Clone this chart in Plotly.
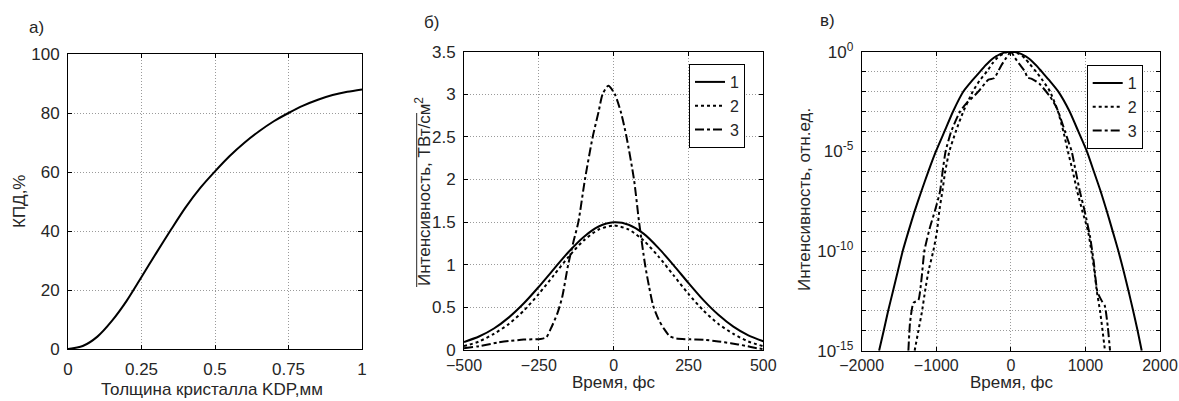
import plotly.graph_objects as go

W, H = 1179, 401

# ---------------- data ----------------
# panel a: efficiency vs KDP crystal thickness
thickness_mm = [0, 0.05, 0.1, 0.15, 0.2, 0.25, 0.3, 0.35, 0.4, 0.45, 0.5,
                0.55, 0.6, 0.65, 0.7, 0.75, 0.8, 0.85, 0.9, 0.95, 1.0]
efficiency_pct = [0, 1.0, 4.2, 9.6, 16.4, 24.4, 32.5, 40.4, 48.0, 54.6, 60.2,
                  65.4, 69.9, 73.8, 77.2, 80.0, 82.5, 84.5, 86.1, 87.2, 88.0]

# panel b: intensity, TW/cm^2
t1b = [-500, -450, -400, -350, -300, -250, -200, -150, -100, -50, 0,
       50, 100, 150, 200, 250, 300, 350, 400, 450, 500]
I1b = [0.093, 0.158, 0.252, 0.383, 0.548, 0.742, 0.950, 1.153, 1.327, 1.449, 1.498,
       1.470, 1.365, 1.196, 0.996, 0.786, 0.585, 0.413, 0.274, 0.172, 0.103]
t2b = [-500, -450, -400, -350, -300, -250, -200, -150, -100, -50, 0,
       50, 100, 150, 200, 250, 300, 350, 400, 450, 500]
I2b = [0.045, 0.100, 0.190, 0.306, 0.463, 0.658, 0.877, 1.096, 1.285, 1.414, 1.460,
       1.414, 1.285, 1.096, 0.877, 0.658, 0.463, 0.306, 0.190, 0.100, 0.045]
t3b = [-500, -450, -389, -350, -300, -244, -225, -210, -188, -172, -152, -135, -118,
       -96, -70, -50, -37, -18, 4, 25, 43, 68, 85, 105, 118, 132, 150, 168, 188,
       210, 257, 302, 350, 391, 440, 480, 500]
I3b = [0.02, 0.045, 0.086, 0.105, 0.122, 0.13, 0.15, 0.25, 0.43, 0.62, 1.0, 1.26, 1.5,
       2.0, 2.5, 2.8, 3.0, 3.1, 3.0, 2.78, 2.5, 2.0, 1.5, 1.0, 0.75, 0.52, 0.36, 0.25, 0.16,
       0.135, 0.125, 0.12, 0.10, 0.08, 0.05, 0.02, 0.012]

# panel c: normalised intensity (log scale)
t1c = [-1767, -1705, -1645, -1580, -1515, -1450, -1372, -1290, -1200, -1106, -1005,
       -890, -775, -637, -520, -413, -350, -300, -250, -200, -150, -100, -50, 0,
       50, 100, 150, 200, 250, 300, 350, 414, 520, 637, 788,
       905, 1020, 1112, 1204, 1287, 1365, 1442, 1512, 1578, 1640, 1700, 1755]
I1c = [1e-15, 1e-14, 1e-13, 1e-12, 1e-11, 1e-10, 1e-9, 1e-8, 1e-7, 1e-6, 1e-5,
       1e-4, 1e-3, 1e-2, 0.035, 1e-1, 0.19, 0.29, 0.43, 0.58, 0.74, 0.87, 0.97, 1.0,
       0.97, 0.87, 0.74, 0.58, 0.43, 0.29, 0.19, 1e-1, 0.035, 1e-2, 1e-3,
       1e-4, 1e-5, 1e-6, 1e-7, 1e-8, 1e-9, 1e-10, 1e-11, 1e-12, 1e-13, 1e-14, 1e-15]
t2c = [-1290, -1240, -1190, -1150, -1104, -1040, -990, -960, -918, -880, -825,
       -738, -637, -511, -420, -323, -250, -200, -150, -100, -50, 0, 50, 100, 150, 200,
       250, 338, 430, 526, 632, 704, 765,
       830, 890, 960, 1035, 1080, 1120, 1152, 1196, 1230, 1262]
I2c = [1e-15, 1e-14, 1e-13, 1e-12, 1e-11, 1e-10, 1e-9, 1e-8, 1e-7, 1e-6, 1e-5,
       1e-4, 1e-3, 1e-2, 0.035, 1e-1, 0.25, 0.417, 0.63, 0.80, 0.95, 1.0, 0.95, 0.80, 0.63, 0.417,
       0.25, 1e-1, 0.035, 1e-2, 1e-3, 1e-4, 1e-5,
       1e-6, 1e-7, 1e-8, 1e-9, 1e-10, 1e-11, 1e-12, 1e-13, 1e-14, 1e-15]
t3c = [-1374, -1352, -1307, -1240, -1195, -1160, -1088, -1016, -949, -915, -875,
       -800, -681, -591, -480, -413, -350, -300, -225, -200, -130, -60, 0, 56, 120,
       190, 225, 280, 380, 526, 615, 660, 749, 816, 870, 925, 990, 1062, 1110, 1160,
       1219, 1260, 1300, 1330]
I3c = [1e-15, 2.51e-14, 2.51e-13, 3.47e-13, 5.1e-12, 1e-10, 1.4e-9, 1.1e-8, 1e-7, 1e-6, 1e-5,
       1e-4, 1e-3, 2.69e-3, 6.76e-3, 1.26e-2, 2.51e-2, 3.98e-2, 4.68e-2, 6.31e-2, 0.1995, 0.501, 1.0, 0.479, 0.224,
       0.1, 0.0501, 0.0437, 0.0251, 5.62e-3, 1.51e-3, 5.5e-4, 5.5e-5, 1e-5, 1e-6, 1e-7, 1e-8, 5.25e-10, 3.16e-11, 9.1e-13,
       3.16e-13, 1.78e-13, 1.58e-14, 1e-15]

series_names = ["1", "2", "3"]

xa_ticks = [0, 0.25, 0.5, 0.75, 1]
xa_text = ["0", "0.25", "0.5", "0.75", "1"]
ya_ticks = [0, 20, 40, 60, 80, 100]
xb_ticks = [-500, -250, 0, 250, 500]
yb_ticks = [0, 0.5, 1, 1.5, 2, 2.5, 3, 3.5]
yb_text = ["0", "0.5", "1", "1.5", "2", "2.5", "3", "3.5"]
xc_ticks = [-2000, -1000, 0, 1000, 2000]
yc_exps = list(range(-15, 1))
yc_labeled = {0: "10<sup>0</sup>", -5: "10<sup>-5</sup>", -10: "10<sup>-10</sup>", -15: "10<sup>-15</sup>"}

# ---------------- styling ----------------
FONT = "Liberation Sans"
TXT = "#262626"
FS = 17


def px(x):
    return x / W


def py(y):
    return 1 - y / H


def axis(domain, **kw):
    d = dict(domain=domain, showline=True, linecolor="black", linewidth=1,
             mirror="ticks", ticks="inside", ticklen=4, tickcolor="black",
             showgrid=True, gridcolor="#9a9a9a", griddash="1px,2px", gridwidth=1,
             zeroline=False, tickfont=dict(family=FONT, size=FS, color=TXT),
             fixedrange=True, automargin=False)
    d.update(kw)
    return d


fig = go.Figure()

line_styles = [dict(color="black", width=2, dash="solid"),
               dict(color="black", width=2, dash="dot"),
               dict(color="black", width=2, dash="dashdot")]

# panel a
fig.add_trace(go.Scatter(x=thickness_mm, y=efficiency_pct, mode="lines",
                         line=dict(color="black", width=2, shape="spline", smoothing=0.8),
                         showlegend=False, xaxis="x", yaxis="y"))

# panel b
for (tt, ii), nm, st in zip([(t1b, I1b), (t2b, I2b), (t3b, I3b)], series_names, line_styles):
    fig.add_trace(go.Scatter(x=tt, y=ii, mode="lines", name=nm,
                             line=dict(**st, shape="spline", smoothing=0.7),
                             xaxis="x2", yaxis="y2", legend="legend"))

# panel c
for (tt, ii), nm, st in zip([(t1c, I1c), (t2c, I2c), (t3c, I3c)], series_names, line_styles):
    fig.add_trace(go.Scatter(x=tt, y=ii, mode="lines", name=nm,
                             line=dict(**st, shape="spline", smoothing=0.5),
                             xaxis="x3", yaxis="y3", legend="legend2"))

LEG_FONT = dict(family=FONT, size=16, color=TXT)
XT_FONT = dict(family=FONT, size=16, color=TXT)

layout = dict(
    width=W, height=H, autosize=False,
    margin=dict(l=0, r=0, t=0, b=0, pad=0, autoexpand=False),
    paper_bgcolor="white", plot_bgcolor="white",
    font=dict(family=FONT, size=FS, color=TXT),
    xaxis=axis([px(68), px(362)], anchor="y", range=[0, 1],
               tickvals=xa_ticks, ticktext=xa_text, ticklabelstandoff=5),
    yaxis=axis([py(349), py(54)], anchor="x", range=[0, 100],
               tickvals=ya_ticks, ticklabelstandoff=4),
    xaxis2=axis([px(464), px(763.3)], anchor="y2", range=[-500, 500],
                tickvals=xb_ticks, ticklabelstandoff=1, tickfont=XT_FONT),
    yaxis2=axis([py(350), py(51.7)], anchor="x2", range=[0, 3.5],
                tickvals=yb_ticks, ticktext=yb_text, ticklabelstandoff=4),
    xaxis3=axis([px(861.7), px(1160)], anchor="y3", range=[-2000, 2000],
                tickvals=xc_ticks, ticklabelstandoff=0, tickfont=XT_FONT),
    yaxis3=axis([py(350.7), py(51.7)], anchor="x3", type="log", range=[-15, 0],
                tickvals=[10.0 ** e for e in yc_exps],
                ticktext=[yc_labeled.get(e, "") for e in yc_exps], ticklabelstandoff=4),
    legend=dict(x=px(689), y=py(64), xanchor="left", yanchor="top",
                bgcolor="white", bordercolor="black", borderwidth=1,
                font=LEG_FONT, itemwidth=30, tracegroupgap=0),
    legend2=dict(x=px(1086.7), y=py(65), xanchor="left", yanchor="top",
                 bgcolor="white", bordercolor="black", borderwidth=1,
                 font=LEG_FONT, itemwidth=30, tracegroupgap=0),
)
fig.update_layout(**layout)

ann = [
    ("а)", 36, 27, 0),
    ("б)", 431, 23, 0),
    ("в)", 828, 21, 0),
    ("КПД,%", 19, 201, -90),
    ("Интенсивность, ТВт/см<sup>2</sup>", 423, 192, -90),
    ("Интенсивность, отн.ед.", 804, 200, -90),
    ("Толщина кристалла KDP,мм", 212, 389, 0),
    ("Время, фс", 614, 382, 0),
    ("Время, фс", 1012, 382, 0),
]
for text, x, y, ang in ann:
    fig.add_annotation(text=text, x=px(x), y=py(y), xref="paper", yref="paper",
                       showarrow=False, textangle=ang, xanchor="center", yanchor="middle",
                       font=dict(family=FONT, size=FS, color=TXT))

# line drawn along the top of the panel b axis title (as in the original)
fig.add_shape(type="line", xref="paper", yref="paper",
              x0=px(416.7), x1=px(416.7), y0=py(113), y1=py(287),
              line=dict(color=TXT, width=1))

fig.write_html("out.html", config={"displayModeBar": False},
               post_script="document.body.style.margin='0px';document.body.style.overflow='hidden';")
